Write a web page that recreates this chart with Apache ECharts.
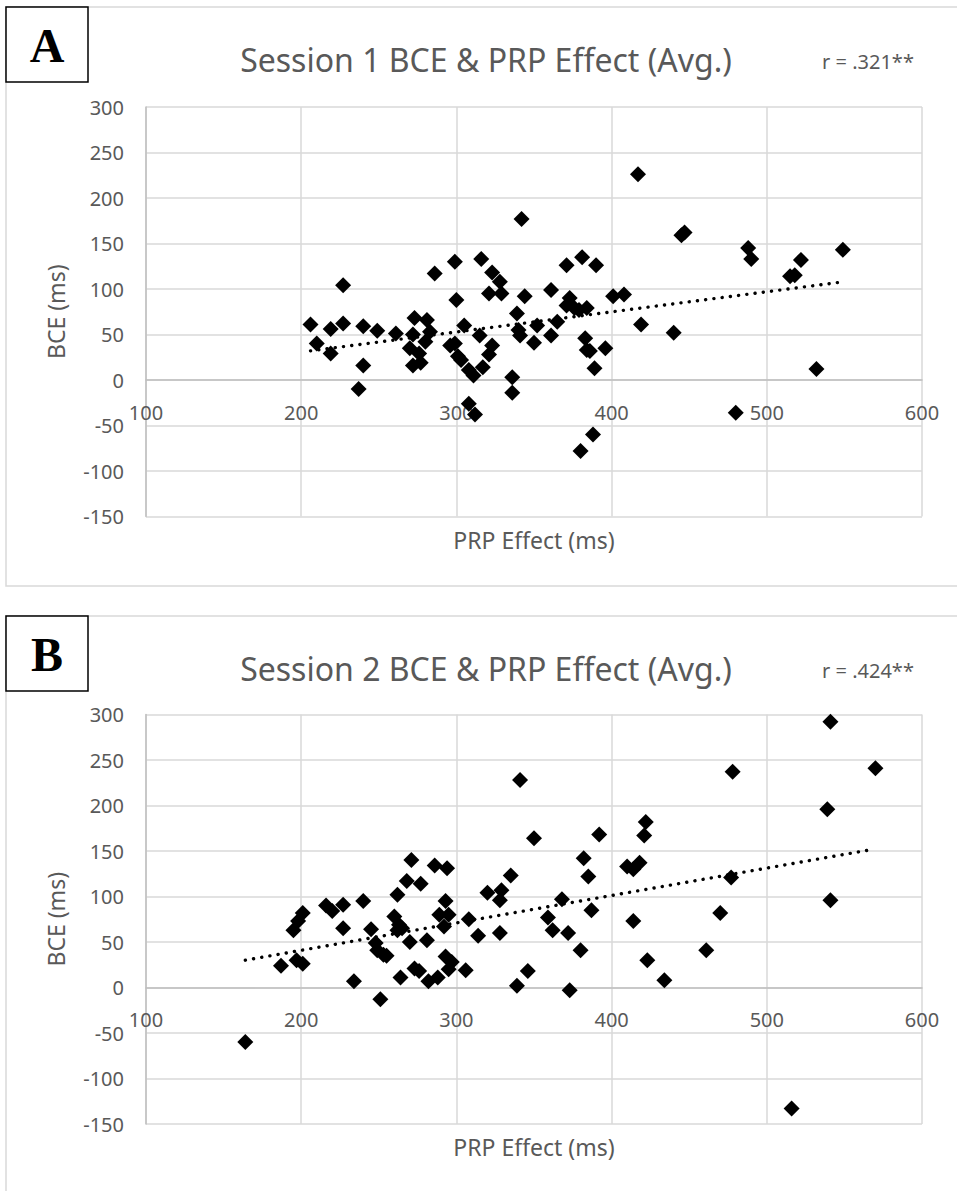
<!DOCTYPE html>
<html>
<head>
<meta charset="utf-8">
<title>BCE & PRP Effect</title>
<script src="https://cdn.jsdelivr.net/npm/echarts@6/dist/echarts.min.js"></script>
<style>
  html, body { margin: 0; padding: 0; background: #fff; }
  #chart_content { width: 957px; height: 1191px; }
</style>
</head>
<body>
<div id="chart_content"></div>
<script>
// axis ticks (both panels share them)
const xTickLabels = [100, 200, 300, 400, 500, 600];
const yTickLabels = [-150, -100, -50, 0, 50, 100, 150, 200, 250, 300];

// Session 1 (panel A)
const s1Prp = [206, 210, 219, 219, 227, 227, 237, 240, 240, 249, 261, 272, 273, 270, 272, 276, 277, 281, 280, 283,
  286, 299, 300, 296, 299, 301, 303, 305, 308, 311, 308, 312, 315, 317, 316, 323, 328, 321, 329, 323, 321,
  342, 417, 445, 447, 488, 490, 522, 515, 518, 549, 532, 440, 419, 401, 408, 381, 371, 390, 361, 344, 373,
  371, 376, 384, 379, 339, 365, 352, 340, 341, 350, 361, 383, 384, 386, 396, 389, 336, 336, 480, 388, 380];
const s1Bce = [61, 40, 29, 56, 104, 62, -10, 59, 16, 54, 51, 50, 68, 35, 16, 29, 19, 66, 42, 53,
  117, 130, 88, 38, 40, 26, 22, 60, 11, 5, -26, -38, 49, 14, 133, 118, 108, 95, 95, 38, 28,
  177, 226, 159, 162, 145, 133, 132, 114, 115, 143, 12, 52, 61, 92, 94, 135, 126, 126, 99, 92, 90,
  82, 79, 79, 77, 73, 64, 60, 55, 49, 41, 49, 46, 33, 32, 35, 13, 3, -14, -36, -60, -78];
// trendline ends [prp, bce]
const s1TrendX = [206, 550];
const s1TrendY = [32, 108];
const s1R = 'r = .321**';

// Session 2 (panel B)
const s2Prp = [164, 187, 195, 198, 201, 197, 201, 216, 220, 227, 227, 234, 240, 245, 248, 249, 251, 253, 255, 262,
  260, 263, 265, 262, 264, 268, 271, 270, 277, 273, 276, 281, 282, 286, 294, 293, 289, 295, 292, 288,
  293, 297, 295, 306, 308, 314, 320, 329, 328, 328, 335, 339, 341,
  541, 570, 478, 539, 541, 477, 470, 461, 434, 423, 422, 421, 418, 414, 410, 414, 392, 382, 385, 387,
  380, 372, 373, 368, 362, 359, 350, 346, 516];
const s2Bce = [-60, 24, 63, 73, 82, 30, 26, 90, 84, 91, 65, 7, 95, 64, 49, 41, -13, 36, 35, 102,
  78, 69, 65, 63, 11, 117, 140, 50, 114, 21, 18, 52, 7, 134, 131, 95, 80, 80, 67, 11,
  34, 28, 20, 19, 75, 57, 104, 107, 96, 60, 123, 2, 228,
  292, 241, 237, 196, 96, 121, 82, 41, 8, 30, 182, 167, 137, 130, 133, 73, 168, 142, 122, 85,
  41, 60, -3, 97, 63, 77, 164, 18, -133];
const s2TrendX = [164, 569];
const s2TrendY = [30, 152];
const s2R = 'r = .424**';

const FONT = '"Noto Sans", "Open Sans", sans-serif';
const GREY = '#595959';
const PLOT_H = 409.5;

function pairs(xs, ys) {
    return xs.map(function (x, i) { return [x, ys[i]]; });
}

function panelAxes(i) {
    const yMin = yTickLabels[0];
    const yMax = yTickLabels[yTickLabels.length - 1];
    // x axis sits on the zero line, like the Excel original
    const zeroOffset = -PLOT_H * (0 - yMin) / (yMax - yMin);
    return {
        x: {
            gridIndex: i,
            type: 'value',
            min: xTickLabels[0],
            max: xTickLabels[xTickLabels.length - 1],
            interval: xTickLabels[1] - xTickLabels[0],
            offset: zeroOffset,
            axisLine: { onZero: false, lineStyle: { color: '#bfbfbf', width: 1.5 } },
            axisTick: { show: false },
            axisLabel: { color: GREY, fontSize: 20, fontFamily: FONT, margin: 22 },
            splitLine: { lineStyle: { color: '#d9d9d9', width: 1.5 } },
            name: 'PRP Effect (ms)',
            nameLocation: 'middle',
            nameGap: 148,
            nameTextStyle: { color: GREY, fontSize: 23, fontFamily: FONT }
        },
        y: {
            gridIndex: i,
            type: 'value',
            min: yMin,
            max: yMax,
            interval: yTickLabels[1] - yTickLabels[0],
            axisLine: { show: true, lineStyle: { color: '#bfbfbf', width: 1.5 } },
            axisTick: { show: false },
            axisLabel: { color: GREY, fontSize: 20, fontFamily: FONT, margin: 22 },
            splitLine: { lineStyle: { color: '#d9d9d9', width: 1.5 } },
            name: 'BCE (ms)',
            nameLocation: 'middle',
            nameGap: 79,
            nameRotate: 90,
            nameTextStyle: { color: GREY, fontSize: 23, fontFamily: FONT }
        }
    };
}

function panelSeries(i, prp, bce, tx, ty) {
    return [
        {
            type: 'scatter',
            xAxisIndex: i,
            yAxisIndex: i,
            symbol: 'diamond',
            symbolSize: 16,
            itemStyle: { color: '#000', opacity: 1 },
            data: pairs(prp, bce)
        },
        {
            type: 'line',
            xAxisIndex: i,
            yAxisIndex: i,
            silent: true,
            symbol: 'none',
            lineStyle: { color: '#000', width: 3.4, type: [0.1, 8.2], cap: 'round' },
            data: pairs(tx, ty)
        }
    ];
}

function panelGraphic(top, letter) {
    return [
        {
            type: 'rect',
            shape: { x: 6, y: top, width: 1000, height: 579 },
            style: { fill: 'none', stroke: '#d9d9d9', lineWidth: 1.5 }
        },
        {
            type: 'rect',
            shape: { x: 6, y: top, width: 82, height: 75 },
            style: { fill: '#fff', stroke: '#000', lineWidth: 1.5 }
        },
        {
            type: 'text',
            x: 47,
            y: top + 38,
            style: {
                text: letter,
                align: 'center',
                verticalAlign: 'middle',
                font: 'bold 48px "Liberation Serif", "DejaVu Serif", serif',
                fill: '#000'
            }
        }
    ];
}

function panelTitles(top, title, r) {
    return [
        {
            text: title,
            left: 486,
            top: top + 36,
            textAlign: 'center',
            padding: 0,
            textStyle: { fontSize: 32, fontWeight: 'normal', color: GREY, fontFamily: FONT }
        },
        {
            text: r,
            left: 868,
            top: top + 44,
            textAlign: 'center',
            padding: 0,
            textStyle: { fontSize: 20, fontWeight: 'normal', color: GREY, fontFamily: FONT }
        }
    ];
}

let scatterChart = {
    __dom: null,
    __chart: null,
    __option: {},
    initChart: function () {
        this.__dom = document.getElementById('chart_content');
        this.__chart = echarts.init(this.__dom, null, { renderer: 'svg' });
        const a = panelAxes(0);
        const b = panelAxes(1);
        this.__option = {
            animation: false,
            backgroundColor: '#fff',
            title: panelTitles(7, 'Session 1 BCE & PRP Effect (Avg.)', s1R)
                .concat(panelTitles(616, 'Session 2 BCE & PRP Effect (Avg.)', s2R)),
            graphic: panelGraphic(7, 'A').concat(panelGraphic(616, 'B')),
            grid: [
                { left: 146, top: 107, width: 776, height: PLOT_H },
                { left: 146, top: 714.5, width: 776, height: PLOT_H }
            ],
            xAxis: [a.x, b.x],
            yAxis: [a.y, b.y],
            series: panelSeries(0, s1Prp, s1Bce, s1TrendX, s1TrendY)
                .concat(panelSeries(1, s2Prp, s2Bce, s2TrendX, s2TrendY))
        };
        this.__chart.setOption(this.__option);
    }
};

scatterChart.initChart();
</script>
</body>
</html>
